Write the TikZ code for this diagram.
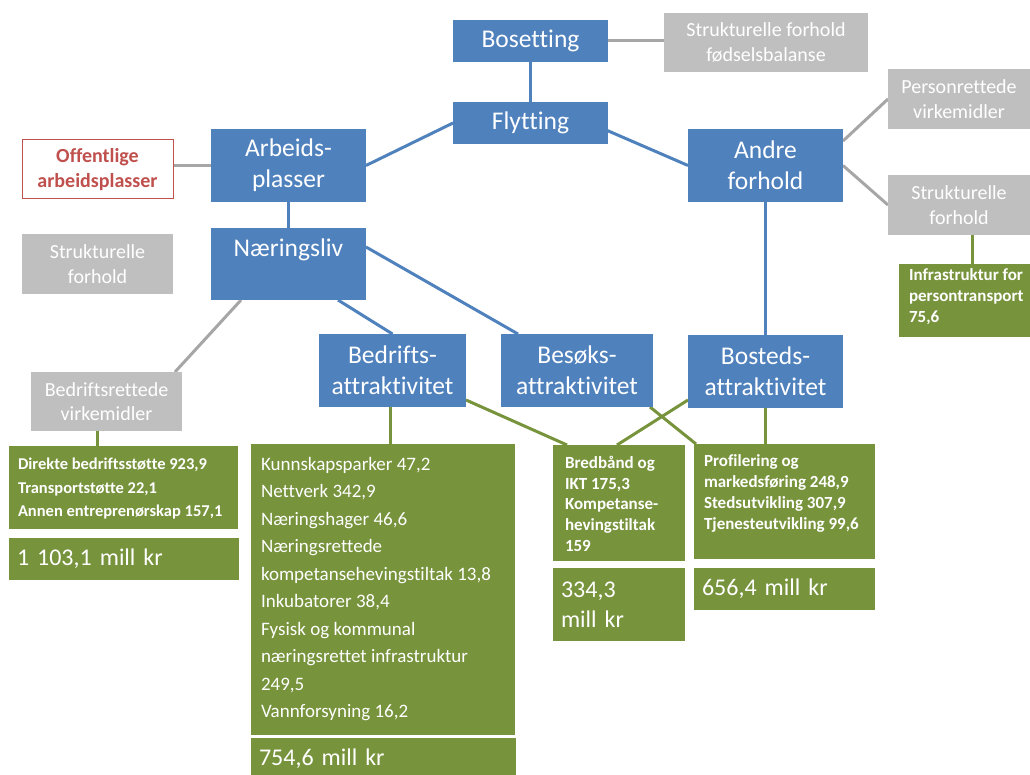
\documentclass[tikz,border=0pt]{standalone}
\usepackage{fontspec}
\setmainfont{Carlito}[Ligatures=NoCommon]
\usetikzlibrary{backgrounds,calc}
\definecolor{cblue}{HTML}{4F81BD}
\definecolor{cgray}{HTML}{BFBFBF}
\definecolor{cline}{HTML}{A6A6A6}
\definecolor{cgreen}{HTML}{77933C}
\definecolor{cred}{HTML}{C0504D}
\tikzset{
 box/.style={anchor=north west, inner sep=0pt, outer sep=0pt, align=center},
 bluebox/.style={box, fill=cblue, text=white, font=\fontsize{25.5}{31}\selectfont},
 graybox/.style={box, fill=cgray, text=white, font=\fontsize{20}{24.5}\selectfont},
 redbox/.style={box, fill=white, draw=cred, line width=1pt, text=cred, font=\bfseries\fontsize{20}{25}\selectfont},
 greenbox/.style={box, fill=cgreen},
 totalbox/.style={box, fill=cgreen, text=white, align=left, inner xsep=8pt, font=\fontsize{24}{30}\selectfont},
 detail/.style={anchor=north west, inner sep=0pt, outer sep=0pt, text=white, align=left},
 bolddetail/.style={detail, font=\bfseries\fontsize{17}{20.7}\selectfont},
 bluel/.style={draw=cblue, line width=3pt},
 grayl/.style={draw=cline, line width=3pt},
 greenl/.style={draw=cgreen, line width=3pt},
}
\begin{document}
\begin{tikzpicture}[x=1pt,y=-1pt]
\useasboundingbox (0,0) rectangle (1030,775);
% top
\node[bluebox, minimum width=155, minimum height=42] (bos) at (453,20) {Bosetting};
\node[graybox, minimum width=204, minimum height=59] (sfod) at (664,13) {Strukturelle forhold\\fødselsbalanse};
\node[bluebox, minimum width=155, minimum height=42] (fly) at (453,102) {Flytting};
% left
\node[bluebox, minimum width=155, minimum height=73] (arb) at (211,129) {Arbeids-\\plasser};
\node[redbox, minimum width=151, minimum height=59] (off) at (22,140) {Offentlige\\arbeidsplasser};
\node[bluebox, minimum width=155, minimum height=72] (naer) at (211,228) {};
\node[anchor=base, text=white, font=\fontsize{25.5}{31}\selectfont, inner sep=0pt] (naer-t) at (288.5,257) {Næringsliv};
\node[graybox, minimum width=151, minimum height=60] (sleft) at (22,234) {Strukturelle\\forhold};
\node[graybox, minimum width=151, minimum height=59] (bvirk) at (31,372) {Bedriftsrettede\\virkemidler};
% right
\node[bluebox, minimum width=155, minimum height=73] (andre) at (688,129) {Andre\\forhold};
\node[graybox, minimum width=142, minimum height=60] (pvirk) at (888,69) {Personrettede\\virkemidler};
\node[graybox, minimum width=142, minimum height=60] (sright) at (888,175) {Strukturelle\\forhold};
\node[greenbox, minimum width=131, minimum height=73] (infra) at (899,264) {};
\node[bolddetail] (infra-t) at (909,269) {Infrastruktur for\\persontransport\\75,6};
% attraktivitet
\node[bluebox, minimum width=147, minimum height=73] (bed) at (319,334) {Bedrifts-\\attraktivitet};
\node[bluebox, minimum width=152, minimum height=73] (bes) at (501,334) {Besøks-\\attraktivitet};
\node[bluebox, minimum width=155, minimum height=73] (bost) at (688,335) {Bosteds-\\attraktivitet};
% green detail boxes
\node[greenbox, minimum width=229, minimum height=83] (gl) at (9,446) {};
\node[detail, font=\bfseries\fontsize{16.5}{23.7}\selectfont] (gl-t) at (18,458) {Direkte bedriftsstøtte 923,9\\Transportstøtte 22,1\\Annen entreprenørskap 157,1};
\node[totalbox, minimum width=230, text width=214, minimum height=42] (glt) at (9,538) {1 103,1 mill kr};
\node[greenbox, minimum width=264, minimum height=291] (kp) at (251,444) {};
\node[detail, font=\fontsize{19}{27.5}\selectfont] (kp-t) at (261,457) {Kunnskapsparker 47,2\\Nettverk 342,9\\Næringshager 46,6\\Næringsrettede\\kompetansehevingstiltak 13,8\\Inkubatorer 38,4\\Fysisk og kommunal\\næringsrettet infrastruktur\\249,5\\Vannforsyning 16,2};
\node[totalbox, minimum width=265, text width=249, minimum height=42] (kpt) at (251,738) {754,6 mill kr};
\node[greenbox, minimum width=132, minimum height=116] (bb) at (553,445) {};
\node[bolddetail] (bb-t) at (565,456) {Bredbånd og\\IKT 175,3\\Kompetanse-\\hevingstiltak\\159};
\node[totalbox, minimum width=132, text width=116, minimum height=73] (bbt) at (553,568) {334,3\\mill kr};
\node[greenbox, minimum width=181, minimum height=115] (prof) at (694,444) {};
\node[bolddetail] (prof-t) at (704,455) {Profilering og\\markedsføring 248,9\\Stedsutvikling 307,9\\Tjenesteutvikling 99,6};
\node[totalbox, minimum width=181, text width=165, minimum height=42] (proft) at (694,568) {656,4 mill kr};
% connectors
\coordinate (flyx) at ($(fly.north west)+(130,18)$);
\draw[bluel] (flyx) -- (andre.west);
\begin{scope}[on background layer]
\draw[bluel] (bos.south) -- (fly.north);
\draw[grayl] (bos.east) -- (bos.east -| sfod.west);
\draw[bluel] (arb.east) -- (fly.west);
\draw[bluel] (arb.south) -- (naer.north);
\draw[grayl] (arb.west) -- (arb.west -| off.east);
\draw[grayl] ($(naer.north west)+(0,33)$) -- ($(naer.north west)+(0,33)$ -| sleft.east);
\draw[bluel] ($(naer.south west)+(127,0)$) -- (bed.north);
\draw[bluel] ($(naer.north east)+(0,19)$) -- ($(bes.north west)+(17,0)$);
\draw[grayl] ($(naer.south west)+(30,0)$) -- ($(bvirk.north west)+(144,0)$);
\draw[grayl] ($(andre.north east)+(0,12)$) -- (pvirk.west);
\draw[grayl] (andre.east) -- (sright.west);
\draw[bluel] (andre.south) -- (bost.north);
\draw[greenl] ($(sright.south west)+(84,0)$) -- ($(infra.north west)+(73,0)$);
\draw[greenl] ($(bvirk.south west)+(66,0)$) -- ($(gl.north west)+(88,0)$);
\draw[greenl] ($(bed.south west)+(71,0)$) -- ($(kp.north west)+(139,0)$);
\draw[greenl] ($(bed.south east)+(0,-7)$) -- ($(bb.north west)+(14,0)$);
\draw[greenl] ($(bes.south east)+(-3,0)$) -- ($(prof.north west)+(2,0)$);
\draw[greenl] ($(bost.south west)+(0,-8)$) -- ($(bb.north west)+(64,0)$);
\draw[greenl] (bost.south) -- (bost.south |- prof.north);
\end{scope}
\end{tikzpicture}
\end{document}
